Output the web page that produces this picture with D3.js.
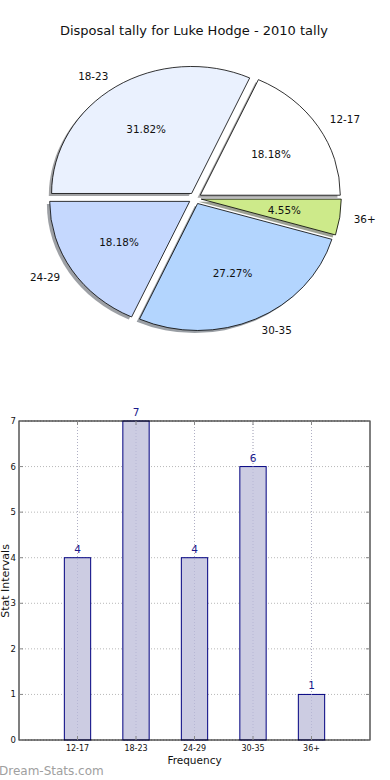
<!DOCTYPE html>
<html>
<head>
<meta charset="utf-8">
<script src="https://cdn.jsdelivr.net/npm/d3@7"></script>
<style>
  html, body { margin: 0; padding: 0; background: #fff; }
  svg { display: block; }
  text { font-family: "DejaVu Sans", sans-serif; }
</style>
</head>
<body>
<svg id="chart" width="390" height="780"></svg>
<script>
// ---- data ----
const title = "Disposal tally for Luke Hodge - 2010 tally";
const categories = ["12-17", "18-23", "24-29", "30-35", "36+"];
const values = [4, 7, 4, 6, 1];
const pieColors = ["#ffffff", "#eaf1fe", "#c5d8fe", "#b3d5fe", "#cdea8a"];
const yTicks = [0, 1, 2, 3, 4, 5, 6, 7];
const xLabel = "Frequency";
const yLabel = "Stat Intervals";
const watermark = "Dream-Stats.com";

const svg = d3.select("#chart");

// ---- title ----
svg.append("text")
  .attr("x", 194).attr("y", 35)
  .attr("text-anchor", "middle")
  .attr("font-size", 13)
  .attr("fill", "#111")
  .text(title);

// ---- pie (elliptical, matplotlib-like: start at 3 o'clock, counterclockwise) ----
const cx = 195, cy = 198.3, rx = 140, ry = 127, explode = 0.045;
const total = d3.sum(values);
const pie = d3.pie().sort(null).startAngle(Math.PI / 2).endAngle(Math.PI / 2 - 2 * Math.PI);
const arcs = pie(values);
const arcGen = d3.arc().innerRadius(0).outerRadius(1);

const gPie = svg.append("g");

function offsetFor(d) {
  const a = (d.startAngle + d.endAngle) / 2;
  return { ux: Math.sin(a), uy: -Math.cos(a) };
}

// shadows
arcs.forEach((d, i) => {
  const o = offsetFor(d);
  const ox = cx + explode * rx * o.ux - 2.8;
  const oy = cy + explode * ry * o.uy + 2.6;
  const c = d3.rgb(pieColors[i]);
  gPie.append("path")
    .attr("transform", `translate(${ox},${oy}) scale(${rx},${ry})`)
    .attr("d", arcGen(d))
    .attr("fill", d3.rgb(c.r * 0.3, c.g * 0.3, c.b * 0.3))
    .attr("fill-opacity", 0.5)
    .attr("stroke", "none");
});

// wedges
arcs.forEach((d, i) => {
  const o = offsetFor(d);
  const ox = cx + explode * rx * o.ux;
  const oy = cy + explode * ry * o.uy;
  gPie.append("path")
    .attr("transform", `translate(${ox},${oy}) scale(${rx},${ry})`)
    .attr("d", arcGen(d))
    .attr("fill", pieColors[i])
    .attr("stroke", "#000")
    .attr("stroke-width", 0.8)
    .attr("vector-effect", "non-scaling-stroke")
    .attr("stroke-linejoin", "round");
});

// labels
arcs.forEach((d, i) => {
  const o = offsetFor(d);
  const ox = cx + explode * rx * o.ux;
  const oy = cy + explode * ry * o.uy;
  const lx = ox + 1.1 * rx * o.ux;
  const ly = oy + 1.1 * ry * o.uy;
  gPie.append("text")
    .attr("x", lx).attr("y", ly)
    .attr("dy", "0.36em")
    .attr("text-anchor", o.ux > 0 ? "start" : "end")
    .attr("font-size", 10.4)
    .attr("fill", "#111")
    .text(categories[i]);
  const px = ox + 0.6 * rx * o.ux;
  const py = oy + 0.6 * ry * o.uy;
  gPie.append("text")
    .attr("x", px).attr("y", py)
    .attr("dy", "0.36em")
    .attr("text-anchor", "middle")
    .attr("font-size", 10.4)
    .attr("fill", "#111")
    .text((values[i] / total * 100).toFixed(2) + "%");
});

// ---- bar chart ----
const pLeft = 19, pRight = 370, pTop = 421, pBottom = 740;
const x = d3.scaleLinear().domain([-1, categories.length]).range([pLeft, pRight]);
const y = d3.scaleLinear().domain([0, 7]).range([pBottom, pTop]);
const barW = x(0.45) - x(0);

const gBar = svg.append("g");

// grid lines
gBar.selectAll(".gy").data(yTicks).enter().append("line")
  .attr("x1", pLeft).attr("x2", pRight)
  .attr("y1", d => y(d)).attr("y2", d => y(d))
  .attr("stroke", "#b8b8b8").attr("stroke-width", 1)
  .attr("stroke-dasharray", "1,2");
gBar.selectAll(".gx").data(categories).enter().append("line")
  .attr("x1", (d, i) => x(i)).attr("x2", (d, i) => x(i))
  .attr("y1", pTop).attr("y2", pBottom)
  .attr("stroke", "#b8b8b8").attr("stroke-width", 1)
  .attr("stroke-dasharray", "1,2");

// bars
gBar.selectAll(".bar").data(values).enter().append("rect")
  .attr("x", (d, i) => x(i) - barW / 2)
  .attr("y", d => y(d))
  .attr("width", barW)
  .attr("height", d => y(0) - y(d))
  .attr("fill", "#ccccE2")
  .attr("stroke", "#000080")
  .attr("stroke-width", 1);

// grid over bars
gBar.selectAll(".gx2").data(categories).enter().append("line")
  .attr("x1", (d, i) => x(i)).attr("x2", (d, i) => x(i))
  .attr("y1", pTop).attr("y2", pBottom)
  .attr("stroke", "#aaaacc").attr("stroke-width", 1)
  .attr("stroke-dasharray", "1,2")
  .attr("opacity", 0.6);

// value labels
gBar.selectAll(".vl").data(values).enter().append("text")
  .attr("x", (d, i) => x(i))
  .attr("y", d => y(d) - 5)
  .attr("text-anchor", "middle")
  .attr("font-size", 10.5)
  .attr("fill", "#1a1a8c")
  .text(d => d);

// frame
gBar.append("rect")
  .attr("x", pLeft).attr("y", pTop)
  .attr("width", pRight - pLeft).attr("height", pBottom - pTop)
  .attr("fill", "none").attr("stroke", "#000").attr("stroke-width", 1);

// y ticks (inside) and labels
yTicks.forEach(t => {
  gBar.append("line").attr("x1", pLeft).attr("x2", pLeft + 4)
    .attr("y1", y(t)).attr("y2", y(t)).attr("stroke", "#888");
  gBar.append("line").attr("x1", pRight - 4).attr("x2", pRight)
    .attr("y1", y(t)).attr("y2", y(t)).attr("stroke", "#888");
  gBar.append("text")
    .attr("x", pLeft - 3).attr("y", y(t))
    .attr("dy", "0.35em")
    .attr("text-anchor", "end")
    .attr("font-size", 8.5)
    .attr("fill", "#111")
    .text(t);
});

// x ticks and labels
categories.forEach((c, i) => {
  gBar.append("line").attr("x1", x(i)).attr("x2", x(i))
    .attr("y1", pBottom - 4).attr("y2", pBottom).attr("stroke", "#888");
  gBar.append("line").attr("x1", x(i)).attr("x2", x(i))
    .attr("y1", pTop).attr("y2", pTop + 4).attr("stroke", "#888");
  gBar.append("text")
    .attr("x", x(i)).attr("y", pBottom + 11)
    .attr("text-anchor", "middle")
    .attr("font-size", 8)
    .attr("fill", "#111")
    .text(c);
});

// axis labels
svg.append("text")
  .attr("x", (pLeft + pRight) / 2).attr("y", 764)
  .attr("text-anchor", "middle")
  .attr("font-size", 10.5)
  .attr("fill", "#111")
  .text(xLabel);
svg.append("text")
  .attr("transform", `translate(8.5, ${(pTop + pBottom) / 2 + 0.5}) rotate(-90)`)
  .attr("text-anchor", "middle")
  .attr("font-size", 11)
  .attr("fill", "#111")
  .text(yLabel);

// watermark
svg.append("text")
  .attr("x", -1).attr("y", 775)
  .attr("font-size", 12)
  .attr("fill", "#a0a0a0")
  .text(watermark);
</script>
</body>
</html>
